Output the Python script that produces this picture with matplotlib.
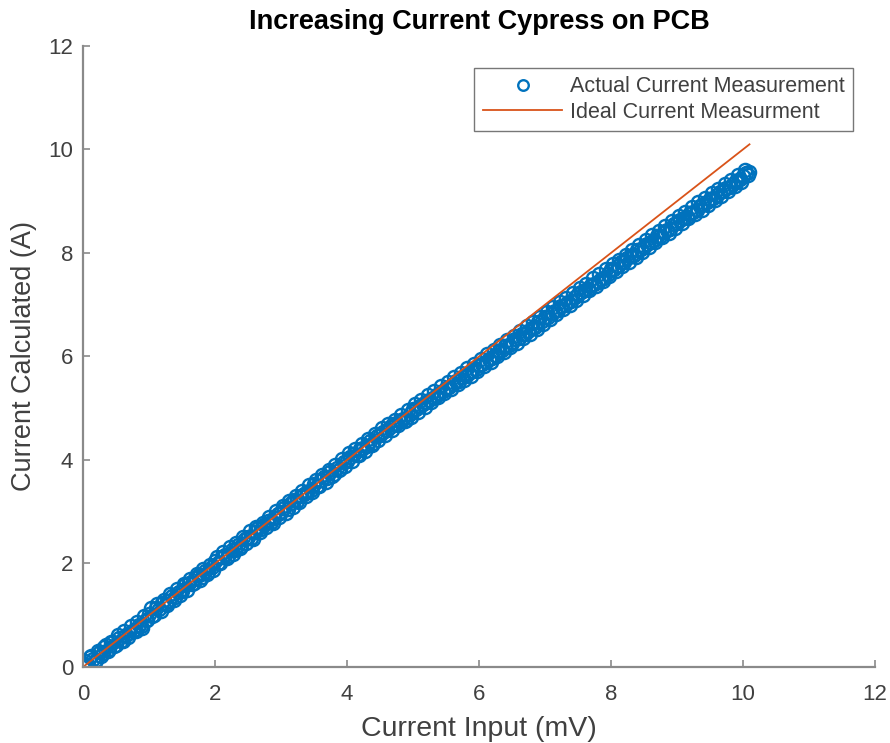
import matplotlib
matplotlib.use("Agg")
import matplotlib.pyplot as plt

# Current input (mV), first sweep
input_a = [
    0.00, 0.05, 0.10, 0.15, 0.20, 0.25, 0.30, 0.35, 0.40, 0.45,
    0.50, 0.55, 0.60, 0.65, 0.70, 0.75, 0.80, 0.85, 0.90, 0.95,
    1.00, 1.05, 1.10, 1.15, 1.20, 1.25, 1.30, 1.35, 1.40, 1.45,
    1.50, 1.55, 1.60, 1.65, 1.70, 1.75, 1.80, 1.85, 1.90, 1.95,
    2.00, 2.05, 2.10, 2.15, 2.20, 2.25, 2.30, 2.35, 2.40, 2.45,
    2.50, 2.55, 2.60, 2.65, 2.70, 2.75, 2.80, 2.85, 2.90, 2.95,
    3.00, 3.05, 3.10, 3.15, 3.20, 3.25, 3.30, 3.35, 3.40, 3.45,
    3.50, 3.55, 3.60, 3.65, 3.70, 3.75, 3.80, 3.85, 3.90, 3.95,
    4.00, 4.05, 4.10, 4.15, 4.20, 4.25, 4.30, 4.35, 4.40, 4.45,
    4.50, 4.55, 4.60, 4.65, 4.70, 4.75, 4.80, 4.85, 4.90, 4.95,
    5.00, 5.05, 5.10, 5.15, 5.20, 5.25, 5.30, 5.35, 5.40, 5.45,
    5.50, 5.55, 5.60, 5.65, 5.70, 5.75, 5.80, 5.85, 5.90, 5.95,
    6.00, 6.05, 6.10, 6.15, 6.20, 6.25, 6.30, 6.35, 6.40, 6.45,
    6.50, 6.55, 6.60, 6.65, 6.70, 6.75, 6.80, 6.85, 6.90, 6.95,
    7.00, 7.05, 7.10, 7.15, 7.20, 7.25, 7.30, 7.35, 7.40, 7.45,
    7.50, 7.55, 7.60, 7.65, 7.70, 7.75, 7.80, 7.85, 7.90, 7.95,
    8.00, 8.05, 8.10, 8.15, 8.20, 8.25, 8.30, 8.35, 8.40, 8.45,
    8.50, 8.55, 8.60, 8.65, 8.70, 8.75, 8.80, 8.85, 8.90, 8.95,
    9.00, 9.05, 9.10, 9.15, 9.20, 9.25, 9.30, 9.35, 9.40, 9.45,
    9.50, 9.55, 9.60, 9.65, 9.70, 9.75, 9.80, 9.85, 9.90, 9.95,
    10.00, 10.05, 10.10,
]

# Current calculated (A), first sweep
calc_a = [
    0.08, 0.04, 0.19, 0.16, 0.13, 0.29, 0.28, 0.43, 0.35, 0.48,
    0.42, 0.56, 0.50, 0.62, 0.66, 0.69, 0.70, 0.82, 0.76, 0.91,
    1.03, 0.98, 1.14, 1.13, 1.24, 1.21, 1.27, 1.38, 1.36, 1.44,
    1.47, 1.58, 1.62, 1.60, 1.71, 1.78, 1.74, 1.86, 1.84, 1.93,
    2.04, 2.01, 2.12, 2.16, 2.14, 2.27, 2.26, 2.36, 2.33, 2.48,
    2.52, 2.50, 2.61, 2.68, 2.66, 2.74, 2.83, 2.80, 2.88, 2.96,
    3.00, 3.07, 3.06, 3.17, 3.22, 3.21, 3.30, 3.34, 3.38, 3.42,
    3.53, 3.49, 3.62, 3.68, 3.66, 3.76, 3.72, 3.84, 3.83, 3.96,
    3.98, 4.06, 4.12, 4.10, 4.22, 4.24, 4.27, 4.37, 4.33, 4.46,
    4.49, 4.54, 4.58, 4.63, 4.70, 4.69, 4.75, 4.80, 4.77, 4.88,
    4.98, 4.99, 5.05, 5.08, 5.12, 5.16, 5.20, 5.23, 5.30, 5.33,
    5.40, 5.41, 5.47, 5.52, 5.53, 5.60, 5.63, 5.68, 5.71, 5.76,
    5.84, 5.86, 5.89, 5.96, 5.98, 6.02, 6.10, 6.12, 6.21, 6.23,
    6.27, 6.33, 6.35, 6.43, 6.44, 6.50, 6.56, 6.57, 6.66, 6.68,
    6.76, 6.77, 6.85, 6.87, 6.90, 6.97, 7.00, 7.05, 7.08, 7.15,
    7.20, 7.24, 7.28, 7.31, 7.38, 7.40, 7.44, 7.50, 7.52, 7.60,
    7.69, 7.70, 7.75, 7.82, 7.83, 7.90, 7.94, 7.97, 8.06, 8.08,
    8.12, 8.17, 8.21, 8.26, 8.32, 8.33, 8.40, 8.44, 8.47, 8.56,
    8.58, 8.63, 8.68, 8.70, 8.78, 8.80, 8.84, 8.91, 8.94, 8.99,
    9.05, 9.07, 9.12, 9.17, 9.19, 9.26, 9.28, 9.34, 9.39, 9.43,
    9.48, 9.55, 9.57,
]

# Current input (mV), second sweep (offset half a step)
input_b = [
    0.025, 0.075, 0.125, 0.175, 0.225, 0.275, 0.325, 0.375, 0.425, 0.475,
    0.525, 0.575, 0.625, 0.675, 0.725, 0.775, 0.825, 0.875, 0.925, 0.975,
    1.025, 1.075, 1.125, 1.175, 1.225, 1.275, 1.325, 1.375, 1.425, 1.475,
    1.525, 1.575, 1.625, 1.675, 1.725, 1.775, 1.825, 1.875, 1.925, 1.975,
    2.025, 2.075, 2.125, 2.175, 2.225, 2.275, 2.325, 2.375, 2.425, 2.475,
    2.525, 2.575, 2.625, 2.675, 2.725, 2.775, 2.825, 2.875, 2.925, 2.975,
    3.025, 3.075, 3.125, 3.175, 3.225, 3.275, 3.325, 3.375, 3.425, 3.475,
    3.525, 3.575, 3.625, 3.675, 3.725, 3.775, 3.825, 3.875, 3.925, 3.975,
    4.025, 4.075, 4.125, 4.175, 4.225, 4.275, 4.325, 4.375, 4.425, 4.475,
    4.525, 4.575, 4.625, 4.675, 4.725, 4.775, 4.825, 4.875, 4.925, 4.975,
    5.025, 5.075, 5.125, 5.175, 5.225, 5.275, 5.325, 5.375, 5.425, 5.475,
    5.525, 5.575, 5.625, 5.675, 5.725, 5.775, 5.825, 5.875, 5.925, 5.975,
    6.025, 6.075, 6.125, 6.175, 6.225, 6.275, 6.325, 6.375, 6.425, 6.475,
    6.525, 6.575, 6.625, 6.675, 6.725, 6.775, 6.825, 6.875, 6.925, 6.975,
    7.025, 7.075, 7.125, 7.175, 7.225, 7.275, 7.325, 7.375, 7.425, 7.475,
    7.525, 7.575, 7.625, 7.675, 7.725, 7.775, 7.825, 7.875, 7.925, 7.975,
    8.025, 8.075, 8.125, 8.175, 8.225, 8.275, 8.325, 8.375, 8.425, 8.475,
    8.525, 8.575, 8.625, 8.675, 8.725, 8.775, 8.825, 8.875, 8.925, 8.975,
    9.025, 9.075, 9.125, 9.175, 9.225, 9.275, 9.325, 9.375, 9.425, 9.475,
    9.525, 9.575, 9.625, 9.675, 9.725, 9.775, 9.825, 9.875, 9.925, 9.975,
    10.025, 10.075,
]

# Current calculated (A), second sweep
calc_b = [
    0.12, 0.03, 0.21, 0.10, 0.30, 0.22, 0.39, 0.30, 0.49, 0.41,
    0.61, 0.50, 0.70, 0.58, 0.80, 0.71, 0.86, 0.80, 0.99, 0.90,
    1.14, 1.01, 1.21, 1.08, 1.29, 1.20, 1.41, 1.29, 1.50, 1.40,
    1.61, 1.48, 1.70, 1.62, 1.79, 1.68, 1.90, 1.80, 1.98, 1.88,
    2.12, 2.00, 2.22, 2.10, 2.31, 2.19, 2.40, 2.30, 2.51, 2.39,
    2.62, 2.47, 2.70, 2.60, 2.79, 2.70, 2.90, 2.78, 3.02, 2.89,
    3.12, 2.98, 3.21, 3.09, 3.31, 3.19, 3.40, 3.30, 3.51, 3.38,
    3.62, 3.49, 3.71, 3.58, 3.80, 3.70, 3.91, 3.80, 4.01, 3.88,
    4.13, 3.99, 4.21, 4.10, 4.30, 4.18, 4.40, 4.29, 4.50, 4.38,
    4.61, 4.48, 4.70, 4.57, 4.78, 4.68, 4.87, 4.76, 4.96, 4.84,
    5.08, 4.93, 5.16, 5.03, 5.25, 5.12, 5.34, 5.21, 5.43, 5.30,
    5.51, 5.37, 5.60, 5.46, 5.68, 5.55, 5.77, 5.63, 5.85, 5.72,
    5.95, 5.81, 6.04, 5.90, 6.13, 6.00, 6.22, 6.08, 6.31, 6.18,
    6.40, 6.27, 6.49, 6.35, 6.58, 6.44, 6.67, 6.53, 6.76, 6.62,
    6.86, 6.72, 6.95, 6.82, 7.05, 6.91, 7.13, 7.00, 7.23, 7.09,
    7.32, 7.19, 7.41, 7.28, 7.51, 7.37, 7.60, 7.46, 7.69, 7.55,
    7.79, 7.65, 7.87, 7.74, 7.97, 7.83, 8.06, 7.93, 8.15, 8.02,
    8.25, 8.12, 8.34, 8.21, 8.43, 8.30, 8.52, 8.39, 8.62, 8.48,
    8.71, 8.58, 8.80, 8.67, 8.89, 8.75, 8.98, 8.84, 9.07, 8.93,
    9.15, 9.02, 9.24, 9.11, 9.33, 9.20, 9.42, 9.29, 9.51, 9.38,
    9.60, 9.50,
]

# ideal line end points
ideal_x = [0.0, 10.1]
ideal_y = [0.0, 10.1]

ticks = [0, 2, 4, 6, 8, 10, 12]

BLUE = "#0072BD"
ORANGE = "#D95319"
AXIS = "#8a8a8a"
TXT = "#404040"

plt.rcParams["font.family"] = ["Liberation Sans", "DejaVu Sans"]

fig = plt.figure(figsize=(8.9, 7.43), dpi=100, facecolor="white")
ax = fig.add_axes([0.0933, 0.1023, 0.8897, 0.8358])

mk = dict(linestyle="none", marker="o", markersize=9.5, markerfacecolor="none",
          markeredgecolor=BLUE, markeredgewidth=1.7)
ax.plot(input_a, calc_a, label="Actual Current Measurement", **mk)
ax.plot(input_b, calc_b, **mk)
ax.plot(ideal_x, ideal_y, color=ORANGE, lw=1.3,
        label="Ideal Current Measurment")

ax.set_xlim(0, 12); ax.set_ylim(0, 12)
ax.set_xticks(ticks); ax.set_yticks(ticks)
for s in ("top", "right"):
    ax.spines[s].set_visible(False)
for s in ("left", "bottom"):
    ax.spines[s].set_color(AXIS)
    ax.spines[s].set_linewidth(1.6)
ax.tick_params(direction="in", length=5, width=1.2, color=AXIS,
               labelsize=16, labelcolor=TXT)
ax.tick_params(axis="x", pad=12)
ax.tick_params(axis="y", pad=7)

ax.set_xlabel("Current Input (mV)", fontsize=20.5, color=TXT, labelpad=8)
ax.set_ylabel("Current Calculated (A)", fontsize=19.5, color=TXT, labelpad=8)
ax.set_title("Increasing Current Cypress on PCB", fontsize=19.5,
             fontweight="bold", color="black", pad=12)

leg = ax.legend(loc="upper right", fontsize=15.5, frameon=True, fancybox=False,
                borderaxespad=1.0, handlelength=3.7, handletextpad=0.35,
                labelspacing=0.22, borderpad=0.4, markerscale=0.8)
leg.get_frame().set_edgecolor("#555555")
leg.get_frame().set_linewidth(1.0)
for t in leg.get_texts():
    t.set_color(TXT)

fig.savefig("out.png", dpi=100, facecolor="white")
